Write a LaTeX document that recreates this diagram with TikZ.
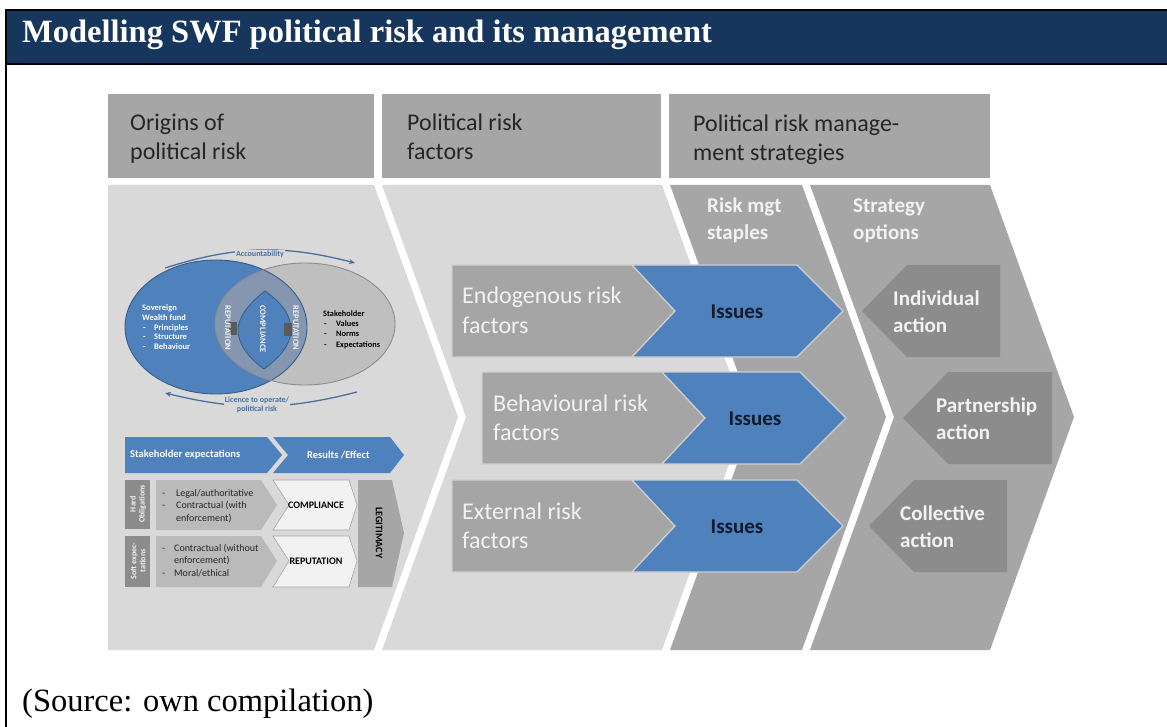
\documentclass[tikz,border=0pt]{standalone}
\usepackage{fontspec}
\setmainfont{Liberation Serif}
\newfontfamily\calibri{Carlito}
\usepackage{tikz}
\usetikzlibrary{arrows.meta,positioning}
\definecolor{headnavy}{HTML}{17365D}
\definecolor{bargray}{HTML}{A6A6A6}
\definecolor{stagelight}{HTML}{D9D9D9}
\definecolor{stagedark}{HTML}{A6A6A6}
\definecolor{rowgray}{HTML}{A5A5A5}
\definecolor{edgelight}{HTML}{CFCFCF}
\definecolor{issueblue}{HTML}{4F81BD}
\definecolor{issueedge}{HTML}{385D8A}
\definecolor{optiongray}{HTML}{8C8C8C}
\definecolor{inktext}{HTML}{262626}
\definecolor{softwhite}{HTML}{F2F2F2}
\definecolor{overlapblue}{HTML}{8597B0}
\definecolor{stakegray}{HTML}{BFBFBF}
\definecolor{stakeedge}{HTML}{8C8C8C}
\definecolor{arcblue}{HTML}{4A6F9E}
\definecolor{issuetext}{HTML}{0E1B2E}
\definecolor{dutygray}{HTML}{BABABA}
\definecolor{markgray}{HTML}{5A5A5A}
\tikzset{
    title-text/.style = {text=white, font=\bfseries\fontsize{32.5}{38}\selectfont, anchor=base west, inner sep=0pt},
    source-text/.style = {text=black, font=\fontsize{32.5}{38}\selectfont, anchor=base west, inner sep=0pt},
    head-bar/.style = {fill=bargray},
    head-text/.style = {text=inktext, font=\calibri\fontsize{24}{29}\selectfont, align=left, anchor=base west, inner sep=0pt},
    stage-light/.style = {fill=stagelight},
    stage-dark/.style = {fill=stagedark},
    sub-text/.style = {text=softwhite, font=\calibri\bfseries\fontsize{21}{27}\selectfont, align=left, anchor=base west, inner sep=0pt},
    factor-box/.style = {fill=rowgray, draw=edgelight, line width=1.2pt},
    factor-text/.style = {text=softwhite, font=\calibri\fontsize{24}{29}\selectfont, align=left, anchor=base west, inner sep=0pt},
    issue-box/.style = {fill=issueblue, draw=edgelight, line width=1.2pt},
    issue-text/.style = {text=issuetext, font=\calibri\bfseries\fontsize{21}{25}\selectfont, inner sep=0pt},
    option-box/.style = {fill=optiongray},
    option-text/.style = {text=softwhite, font=\calibri\bfseries\fontsize{21}{27}\selectfont, align=left, anchor=base west, inner sep=0pt},
    venn-text/.style = {font=\calibri\bfseries\fontsize{8.5}{9.6}\selectfont, align=left, anchor=base west, inner sep=0pt},
    venn-rot/.style = {text=softwhite, font=\calibri\bfseries\fontsize{8.5}{10}\selectfont, rotate=-90, inner sep=0pt},
    cycle-arc/.style = {draw=arcblue, line width=1.3pt},
    cycle-label/.style = {text=arcblue, font=\calibri\bfseries\fontsize{8}{9.5}\selectfont, align=center, fill=stagelight, inner sep=1pt},
    band-box/.style = {fill=issueblue},
    band-text/.style = {text=white, font=\calibri\bfseries\fontsize{10.5}{12}\selectfont, anchor=west, inner sep=0pt},
    strip-box/.style = {fill=optiongray},
    strip-text/.style = {text=softwhite, font=\calibri\bfseries\fontsize{8}{9}\selectfont, align=center, rotate=90, inner sep=0pt},
    duty-box/.style = {fill=dutygray},
    duty-text/.style = {text=inktext, font=\calibri\fontsize{10}{12.5}\selectfont, align=left, anchor=base west, inner sep=0pt},
    result-box/.style = {fill=softwhite, draw=bargray, line width=0.6pt},
    result-text/.style = {text=black, font=\calibri\bfseries\fontsize{10}{12}\selectfont, inner sep=0pt},
    legit-box/.style = {fill=bargray},
}

\begin{document}
\begin{tikzpicture}[x=1pt, y=-1pt]
\useasboundingbox (0,0) rectangle (1167,727);

% title band and frame
\fill[headnavy] (5.5,10) rectangle (1167,64);
\draw[line width=2pt] (1167,10) -- (5.5,10) -- (5.5,727);
\draw[line width=2pt] (5.5,64) -- (1167,64);
\node[title-text] (title) at (22,43) {Modelling SWF political risk and its management};

% column heads (multi-line nodes sit on their last baseline)
\path[head-bar] (108,94) rectangle (374,178);
\path[head-bar] (382,94) rectangle (661,178);
\path[head-bar] (669,94) rectangle (990,178);
\node[head-text] (head-origins) at (130,160) {Origins of\\political risk};
\node[head-text] (head-factors) at (407,160) {Political risk\\factors};
\node[head-text] (head-strategies) at (693,161) {Political risk manage-\\ment strategies};

% stage chevrons
\path[stage-light] (108,185) -- (374,185) -- (458,417) -- (374,650) -- (108,650) -- cycle;
\path[stage-light] (382,185) -- (662,185) -- (746,417) -- (662,650) -- (382,650) -- (466,417) -- cycle;
\path[stage-dark] (670,185) -- (802,185) -- (886,417) -- (802,650) -- (670,650) -- (754,417) -- cycle;
\path[stage-dark] (810,185) -- (990,185) -- (1074,417) -- (990,650) -- (810,650) -- (894,417) -- cycle;
\node[sub-text] (staples) at (707,240) {Risk mgt\\staples};
\node[sub-text] (options) at (853,240) {Strategy\\options};

% risk factors leading to issues
\path[factor-box] (452,265) -- (632,265) -- (675,311) -- (632,357) -- (452,357) -- cycle;
\path[issue-box] (632,265) -- (797,265) -- (843,311) -- (797,357) -- (632,357) -- (675,311) -- cycle;
\path[factor-box] (482,372) -- (662,372) -- (705,418) -- (662,464) -- (482,464) -- cycle;
\path[issue-box] (662,372) -- (800,372) -- (846,418) -- (800,464) -- (662,464) -- (705,418) -- cycle;
\path[factor-box] (452,480) -- (632,480) -- (675,526) -- (632,572) -- (452,572) -- cycle;
\path[issue-box] (632,480) -- (797,480) -- (843,526) -- (797,572) -- (632,572) -- (675,526) -- cycle;
\node[factor-text] (endogenous) at (462,333) {Endogenous risk\\factors};
\node[factor-text] (behavioural) at (493,440) {Behavioural risk\\factors};
\node[factor-text] (external) at (462,548) {External risk\\factors};
\node[issue-text] (issue-endogenous) at (737,312) {Issues};
\node[issue-text] (issue-behavioural) at (755,419) {Issues};
\node[issue-text] (issue-external) at (737,527) {Issues};

% strategy options
\path[option-box] (862,311) -- (907,265) -- (1000,265) -- (1000,357) -- (907,357) -- cycle;
\path[option-box] (903,418) -- (948,372) -- (1052,372) -- (1052,464) -- (948,464) -- cycle;
\path[option-box] (869,526) -- (914,480) -- (1007,480) -- (1007,572) -- (914,572) -- cycle;
\node[option-text] (individual) at (893,332) {Individual\\action};
\node[option-text] (partnership) at (936,439) {Partnership\\action};
\node[option-text] (collective) at (900,547) {Collective\\action};

% origins: accountability cycle
\fill[issueblue] (216,327) ellipse [x radius=91pt, y radius=67pt];
\fill[stakegray] (305,324) ellipse [x radius=90pt, y radius=61pt];
\begin{scope}
    \clip (216,327) ellipse [x radius=91pt, y radius=67pt];
    \fill[overlapblue] (305,324) ellipse [x radius=90pt, y radius=61pt];
\end{scope}
\draw[issueedge, line width=0.9pt] (216,327) ellipse [x radius=91pt, y radius=67pt];
\draw[stakeedge, line width=0.9pt] (305,324) ellipse [x radius=90pt, y radius=61pt];
\filldraw[fill=issueblue, draw=issueedge, line width=0.8pt] (265,291) .. controls (248,304) and (238,318) .. (238,330)
    .. controls (238,345) and (250,359) .. (264,369) .. controls (279,358) and (291,345) .. (291,330)
    .. controls (291,315) and (281,302) .. (265,291) -- cycle;
\fill[markgray] (229,322) rectangle (237,335);
\fill[markgray] (284,323) rectangle (292,336);
\node[text=issueblue!75!gray, font=\calibri\bfseries\fontsize{7}{8.5}\selectfont, align=center, inner sep=0pt] (degree) at (258,328) {Degree of\\legitimacy};
\node[venn-rot] (rep-left) at (228,328) {REPUTATION};
\node[venn-rot] (compliance-core) at (263,329) {COMPLIANCE};
\node[venn-rot] (rep-right) at (296,328) {REPUTATION};
\node[venn-text, text=white] (swf) at (142,349.4) {Sovereign\\Wealth fund\\\makebox[12pt][l]{\hspace{1pt}-}Principles\\\makebox[12pt][l]{\hspace{1pt}-}Structure\\\makebox[12pt][l]{\hspace{1pt}-}Behaviour};
\node[venn-text, text=black, font=\calibri\bfseries\fontsize{8.3}{10.3}\selectfont] (stakeholder) at (323,347) {Stakeholder\\\makebox[13pt][l]{\hspace{1pt}-}Values\\\makebox[13pt][l]{\hspace{1pt}-}Norms\\\makebox[13pt][l]{\hspace{1pt}-}Expectations};
\coordinate (acc-start) at (165,268);
\coordinate (acc-end) at (355,263);
\coordinate (lic-start) at (357,392);
\coordinate (lic-end) at (165,393);
\draw[cycle-arc, -{Stealth[length=6pt, width=5pt]}] (acc-start) to[bend left=16] (acc-end);
\draw[cycle-arc, -{Stealth[length=6pt, width=5pt]}] (lic-start) to[bend left=14] (lic-end);
\node[cycle-label] (accountability) at (260,254) {Accountability};
\node[cycle-label] (licence) at (257,405) {Licence to operate/\\political risk};

% origins: expectations and effects
\path[band-box] (125,437) -- (267,437) -- (282,455) -- (267,473) -- (125,473) -- cycle;
\path[band-box] (273,437) -- (390,437) -- (404,455) -- (390,473) -- (273,473) -- (288,455) -- cycle;
\node[band-text] (expectations) at (130,455) {Stakeholder expectations};
\node[band-text] (effect) at (307,455) {Results /Effect};
\path[strip-box] (125,480) rectangle (150,529);
\path[duty-box] (156,480) -- (261,480) -- (277,505) -- (261,530) -- (156,530) -- cycle;
\path[result-box] (273,480) -- (349,480) -- (357,505) -- (349,530) -- (273,530) -- (289,505) -- cycle;
\path[strip-box] (125,536) rectangle (150,587);
\path[duty-box] (156,536) -- (261,536) -- (277,561) -- (261,587) -- (156,587) -- cycle;
\path[result-box] (273,536) -- (349,536) -- (357,561) -- (349,587) -- (273,587) -- (289,561) -- cycle;
\path[legit-box] (358,480) -- (392,480) -- (404,533) -- (392,587) -- (358,587) -- cycle;
\node[strip-text] (hard) at (138,504) {Hard\\Obligations};
\node[strip-text] (soft) at (138,561) {Soft expec-\\tations};
\node[duty-text] (hard-list) at (162,521) {\makebox[14pt][l]{-}Legal/authoritative\\\makebox[14pt][l]{-}Contractual (with\\\hspace*{14pt}enforcement)};
\node[duty-text] (soft-list) at (162,576) {\makebox[12pt][l]{-}Contractual (without\\\hspace*{12pt}enforcement)\\\makebox[12pt][l]{-}Moral/ethical};
\node[result-text] (compliance) at (316,505) {COMPLIANCE};
\node[result-text] (reputation) at (316,561) {REPUTATION};
\node[result-text, rotate=-90] (legitimacy) at (379,533) {LEGITIMACY};

% source line
\node[source-text] (source) at (22,711) {(Source: own compilation)};
\end{tikzpicture}
\end{document}
